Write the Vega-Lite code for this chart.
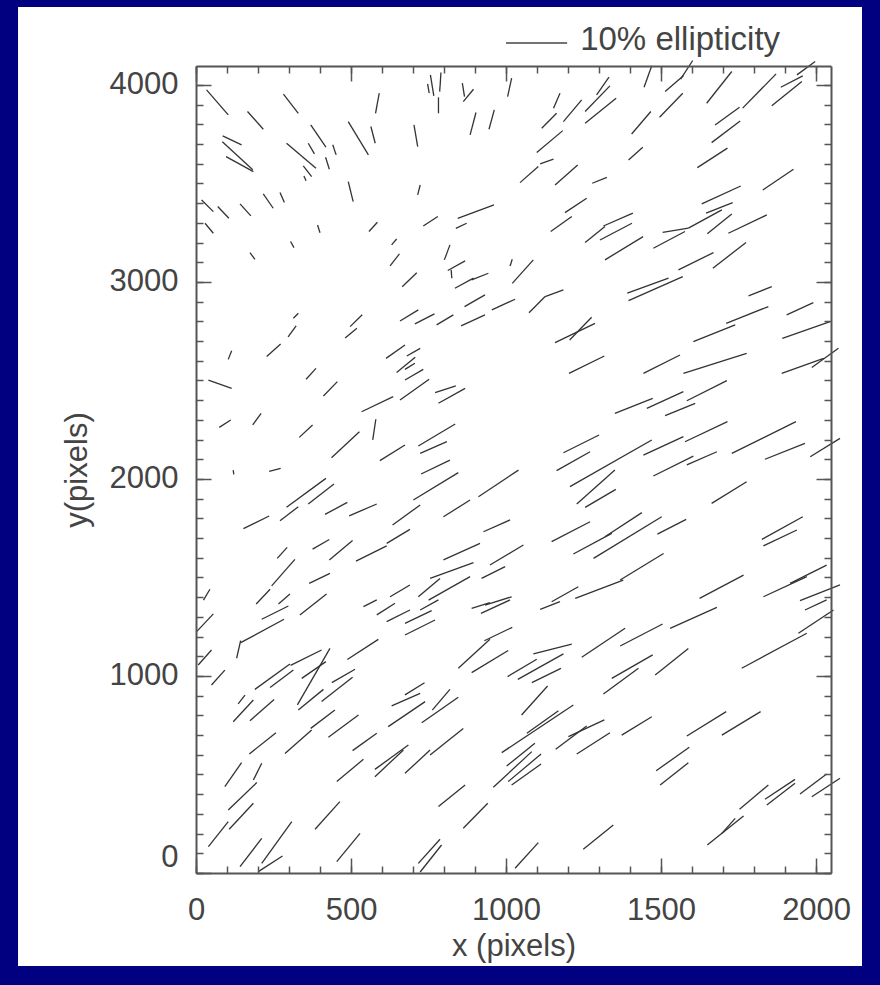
{
"$schema": "https://vega.github.io/schema/vega-lite/v6.json",
"width": 635,
"height": 807,
"autosize": {"type": "none"},
"padding": {"left": 196, "top": 66, "right": 49, "bottom": 112},
"background": "#000080",
"config": {
  "view": {"stroke": null},
  "axis": {"grid": false, "domainColor": "#555555", "domainWidth": 2, "tickColor": "#555555", "tickWidth": 1.5,
    "labelFont": "Liberation Sans", "labelFontSize": 31, "labelColor": "#444444", "labelFontWeight": "normal",
    "titleFont": "Liberation Sans", "titleFontSize": 31, "titleColor": "#444444", "titleFontWeight": "normal", "labelOverlap": false}
},
"resolve": {"axis": {"x": "independent", "y": "independent"}},
"data": {"values": [
{"x0":34,"y0":3975,"x1":104,"y1":3848},{"x0":166,"y0":3865,"x1":217,"y1":3775},{"x0":282,"y0":3953,"x1":330,"y1":3856},{"x0":591,"y0":3958,"x1":579,"y1":3856},
{"x0":86,"y0":3741,"x1":147,"y1":3696},{"x0":85,"y0":3712,"x1":183,"y1":3569},{"x0":97,"y0":3636,"x1":185,"y1":3560},{"x0":292,"y0":3704,"x1":387,"y1":3577},
{"x0":370,"y0":3797,"x1":419,"y1":3684},{"x0":362,"y0":3704,"x1":382,"y1":3650},{"x0":441,"y0":3696,"x1":452,"y1":3645},{"x0":418,"y0":3633,"x1":430,"y1":3572},
{"x0":346,"y0":3589,"x1":373,"y1":3535},{"x0":348,"y0":3538,"x1":355,"y1":3514},{"x0":491,"y0":3814,"x1":556,"y1":3645},{"x0":564,"y0":3789,"x1":578,"y1":3704},
{"x0":491,"y0":3509,"x1":507,"y1":3408},{"x0":18,"y0":3416,"x1":56,"y1":3357},{"x0":70,"y0":3383,"x1":106,"y1":3323},{"x0":142,"y0":3396,"x1":177,"y1":3335},
{"x0":217,"y0":3447,"x1":249,"y1":3374},{"x0":271,"y0":3454,"x1":285,"y1":3403},{"x0":29,"y0":3298,"x1":56,"y1":3247},{"x0":392,"y0":3289,"x1":400,"y1":3250},
{"x0":558,"y0":3256,"x1":585,"y1":3303},{"x0":305,"y0":3205,"x1":316,"y1":3174},{"x0":174,"y0":3149,"x1":190,"y1":3115},{"x0":631,"y0":3188,"x1":647,"y1":3218},
{"x0":626,"y0":3081,"x1":656,"y1":3142},{"x0":665,"y0":2976,"x1":712,"y1":3047},{"x0":314,"y0":2816,"x1":330,"y1":2841},{"x0":297,"y0":2721,"x1":323,"y1":2777},
{"x0":497,"y0":2773,"x1":536,"y1":2833},{"x0":481,"y0":2716,"x1":519,"y1":2765},{"x0":658,"y0":2802,"x1":717,"y1":2858},
{"x0":756,"y0":4051,"x1":767,"y1":3944},{"x0":747,"y0":4005,"x1":752,"y1":3958},{"x0":790,"y0":4063,"x1":786,"y1":3966},{"x0":782,"y0":3937,"x1":782,"y1":3856},
{"x0":859,"y0":4009,"x1":866,"y1":3941},{"x0":862,"y0":3915,"x1":895,"y1":3978},{"x0":903,"y0":3860,"x1":884,"y1":3746},{"x0":962,"y0":3873,"x1":945,"y1":3775},
{"x0":1018,"y0":4034,"x1":1005,"y1":3941},{"x0":703,"y0":3797,"x1":715,"y1":3687},{"x0":1174,"y0":3958,"x1":1153,"y1":3882},{"x0":1163,"y0":3856,"x1":1115,"y1":3780},
{"x0":1244,"y0":3924,"x1":1185,"y1":3814},{"x0":1332,"y0":4039,"x1":1292,"y1":3949},{"x0":1335,"y0":3995,"x1":1255,"y1":3865},{"x0":1355,"y0":3932,"x1":1255,"y1":3806},
{"x0":1183,"y0":3768,"x1":1099,"y1":3657},{"x0":1153,"y0":3623,"x1":1110,"y1":3599},{"x0":1104,"y0":3586,"x1":1045,"y1":3504},{"x0":1231,"y0":3594,"x1":1158,"y1":3492},
{"x0":1325,"y0":3531,"x1":1278,"y1":3501},{"x0":723,"y0":3492,"x1":715,"y1":3442},{"x0":1260,"y0":3425,"x1":1190,"y1":3352},{"x0":961,"y0":3391,"x1":844,"y1":3323},
{"x0":780,"y0":3332,"x1":733,"y1":3284},{"x0":873,"y0":3298,"x1":838,"y1":3272},{"x0":1212,"y0":3332,"x1":1144,"y1":3256},{"x0":1314,"y0":3284,"x1":1409,"y1":3349},
{"x0":1319,"y0":3281,"x1":1255,"y1":3200},{"x0":1303,"y0":3213,"x1":1406,"y1":3298},{"x0":1319,"y0":3112,"x1":1442,"y1":3230},{"x0":819,"y0":3188,"x1":801,"y1":3112},
{"x0":868,"y0":3107,"x1":812,"y1":3058},{"x0":823,"y0":3061,"x1":825,"y1":3019},{"x0":1020,"y0":3115,"x1":1013,"y1":3081},{"x0":1088,"y0":3112,"x1":1020,"y1":2993},
{"x0":943,"y0":3044,"x1":889,"y1":3010},{"x0":895,"y0":3019,"x1":835,"y1":2968},{"x0":932,"y0":2934,"x1":866,"y1":2875},{"x0":1029,"y0":2912,"x1":954,"y1":2858},
{"x0":1185,"y0":2960,"x1":1126,"y1":2926},{"x0":1126,"y0":2926,"x1":1074,"y1":2844},{"x0":769,"y0":2838,"x1":706,"y1":2787},{"x0":830,"y0":2833,"x1":776,"y1":2782},
{"x0":932,"y0":2833,"x1":855,"y1":2777},{"x0":1276,"y0":2821,"x1":1205,"y1":2705},{"x0":1287,"y0":2790,"x1":1158,"y1":2692},
{"x0":1470,"y0":4097,"x1":1445,"y1":3988},{"x0":1602,"y0":4124,"x1":1563,"y1":4029},{"x0":1572,"y0":4046,"x1":1513,"y1":3966},{"x0":1570,"y0":3958,"x1":1495,"y1":3836},
{"x0":1467,"y0":3865,"x1":1405,"y1":3751},{"x0":1441,"y0":3684,"x1":1395,"y1":3619},{"x0":1728,"y0":4068,"x1":1647,"y1":3907},{"x0":1871,"y0":4056,"x1":1763,"y1":3882},
{"x0":1957,"y0":4046,"x1":1886,"y1":3988},{"x0":1954,"y0":4017,"x1":1857,"y1":3894},{"x0":1997,"y0":4119,"x1":1938,"y1":4051},{"x0":1753,"y0":3887,"x1":1674,"y1":3797},
{"x0":1755,"y0":3817,"x1":1663,"y1":3707},{"x0":1714,"y0":3679,"x1":1617,"y1":3580},{"x0":1927,"y0":3572,"x1":1828,"y1":3467},{"x0":1757,"y0":3487,"x1":1631,"y1":3396},
{"x0":1731,"y0":3403,"x1":1645,"y1":3349},{"x0":1696,"y0":3366,"x1":1588,"y1":3273},{"x0":1588,"y0":3273,"x1":1505,"y1":3251},{"x0":1841,"y0":3340,"x1":1717,"y1":3247},
{"x0":1728,"y0":3345,"x1":1649,"y1":3244},{"x0":1577,"y0":3256,"x1":1475,"y1":3171},{"x0":1669,"y0":3149,"x1":1556,"y1":3061},{"x0":1774,"y0":3200,"x1":1667,"y1":3070},
{"x0":1524,"y0":3019,"x1":1391,"y1":2943},{"x0":1570,"y0":3027,"x1":1395,"y1":2905},{"x0":1857,"y0":2976,"x1":1782,"y1":2929},{"x0":1846,"y0":2875,"x1":1710,"y1":2790},
{"x0":1991,"y0":2895,"x1":1905,"y1":2833},{"x0":1739,"y0":2782,"x1":1604,"y1":2697},{"x0":2045,"y0":2798,"x1":1891,"y1":2714},
{"x0":115,"y0":2651,"x1":104,"y1":2607},{"x0":273,"y0":2685,"x1":228,"y1":2621},{"x0":387,"y0":2561,"x1":355,"y1":2506},{"x0":456,"y0":2494,"x1":411,"y1":2421},
{"x0":40,"y0":2502,"x1":115,"y1":2460},{"x0":210,"y0":2333,"x1":183,"y1":2274},{"x0":112,"y0":2299,"x1":75,"y1":2262},{"x0":376,"y0":2274,"x1":333,"y1":2211},
{"x0":674,"y0":2680,"x1":613,"y1":2612},{"x0":636,"y0":2418,"x1":534,"y1":2341},{"x0":580,"y0":2303,"x1":570,"y1":2198},{"x0":527,"y0":2240,"x1":437,"y1":2108},
{"x0":674,"y0":2172,"x1":593,"y1":2093},{"x0":120,"y0":2045,"x1":122,"y1":2023},{"x0":273,"y0":2054,"x1":236,"y1":2039},{"x0":419,"y0":2003,"x1":292,"y1":1856},
{"x0":445,"y0":1974,"x1":362,"y1":1873},{"x0":236,"y0":1812,"x1":153,"y1":1748},{"x0":330,"y0":1859,"x1":271,"y1":1788},{"x0":488,"y0":1881,"x1":416,"y1":1820},
{"x0":583,"y0":1873,"x1":494,"y1":1813},{"x0":690,"y0":1744,"x1":615,"y1":1673},{"x0":430,"y0":1693,"x1":376,"y1":1644},{"x0":505,"y0":1687,"x1":430,"y1":1589},
{"x0":294,"y0":1653,"x1":262,"y1":1597},{"x0":615,"y0":1660,"x1":516,"y1":1583},{"x0":319,"y0":1592,"x1":244,"y1":1457},{"x0":432,"y0":1521,"x1":365,"y1":1470},
{"x0":45,"y0":1440,"x1":24,"y1":1385},{"x0":239,"y0":1440,"x1":194,"y1":1365},{"x0":303,"y0":1416,"x1":266,"y1":1365},{"x0":690,"y0":1462,"x1":626,"y1":1402},
{"x0":723,"y0":2663,"x1":680,"y1":2624},{"x0":707,"y0":2618,"x1":647,"y1":2540},{"x0":706,"y0":2587,"x1":674,"y1":2556},{"x0":733,"y0":2556,"x1":674,"y1":2502},
{"x0":752,"y0":2506,"x1":658,"y1":2401},{"x0":771,"y0":2438,"x1":838,"y1":2472},{"x0":782,"y0":2384,"x1":868,"y1":2460},{"x0":836,"y0":2279,"x1":717,"y1":2167},
{"x0":809,"y0":2189,"x1":723,"y1":2130},{"x0":819,"y0":2096,"x1":726,"y1":2025},{"x0":846,"y0":2032,"x1":701,"y1":1893},{"x0":1040,"y0":2045,"x1":911,"y1":1910},
{"x0":884,"y0":1893,"x1":798,"y1":1808},{"x0":723,"y0":1868,"x1":634,"y1":1766},{"x0":1013,"y0":1792,"x1":927,"y1":1732},{"x0":916,"y0":1673,"x1":798,"y1":1589},
{"x0":1056,"y0":1665,"x1":948,"y1":1563},{"x0":895,"y0":1575,"x1":755,"y1":1495},{"x0":787,"y0":1495,"x1":717,"y1":1402},{"x0":884,"y0":1504,"x1":750,"y1":1385},
{"x0":997,"y0":1555,"x1":921,"y1":1495},{"x0":1018,"y0":1402,"x1":932,"y1":1360},{"x0":1317,"y0":2624,"x1":1203,"y1":2536},{"x0":1300,"y0":2223,"x1":1185,"y1":2133},
{"x0":1271,"y0":2138,"x1":1163,"y1":2042},{"x0":1351,"y0":2045,"x1":1228,"y1":1873},{"x0":1354,"y0":1947,"x1":1255,"y1":1856},{"x0":1271,"y0":1783,"x1":1147,"y1":1682},
{"x0":1341,"y0":1724,"x1":1217,"y1":1619},{"x0":1233,"y0":1453,"x1":1147,"y1":1377},{"x0":1378,"y0":1487,"x1":1223,"y1":1394},
{"x0":1561,"y0":2629,"x1":1443,"y1":2536},{"x0":1776,"y0":2638,"x1":1572,"y1":2536},{"x0":2072,"y0":2663,"x1":1986,"y1":2566},{"x0":2024,"y0":2612,"x1":1889,"y1":2536},
{"x0":1473,"y0":2409,"x1":1351,"y1":2333},{"x0":1572,"y0":2443,"x1":1454,"y1":2358},{"x0":1712,"y0":2499,"x1":1583,"y1":2397},{"x0":1610,"y0":2384,"x1":1513,"y1":2321},
{"x0":1714,"y0":2291,"x1":1577,"y1":2189},{"x0":1935,"y0":2291,"x1":1728,"y1":2130},{"x0":1470,"y0":2198,"x1":1206,"y1":1961},{"x0":1572,"y0":2215,"x1":1443,"y1":2121},
{"x0":1680,"y0":2138,"x1":1583,"y1":2071},{"x0":1964,"y0":2181,"x1":1835,"y1":2100},{"x0":1604,"y0":2116,"x1":1475,"y1":2015},{"x0":2077,"y0":2206,"x1":1981,"y1":2113},
{"x0":1776,"y0":1986,"x1":1663,"y1":1876},{"x0":1438,"y0":1829,"x1":1319,"y1":1707},{"x0":1502,"y0":1808,"x1":1282,"y1":1597},{"x0":1581,"y0":1795,"x1":1488,"y1":1720},
{"x0":1957,"y0":1808,"x1":1825,"y1":1693},{"x0":1938,"y0":1741,"x1":1830,"y1":1660},{"x0":1508,"y0":1622,"x1":1368,"y1":1487},{"x0":1766,"y0":1512,"x1":1624,"y1":1394},
{"x0":2034,"y0":1563,"x1":1916,"y1":1470},{"x0":1970,"y0":1504,"x1":1830,"y1":1402},{"x0":2077,"y0":1462,"x1":1948,"y1":1382},
{"x0":56,"y0":1315,"x1":2,"y1":1225},{"x0":298,"y0":1355,"x1":212,"y1":1288},{"x0":421,"y0":1416,"x1":335,"y1":1310},{"x0":583,"y0":1386,"x1":540,"y1":1352},
{"x0":642,"y0":1369,"x1":583,"y1":1310},{"x0":690,"y0":1335,"x1":615,"y1":1276},{"x0":284,"y0":1288,"x1":144,"y1":1169},{"x0":144,"y0":1179,"x1":131,"y1":1090},
{"x0":50,"y0":1132,"x1":7,"y1":1056},{"x0":405,"y0":1132,"x1":305,"y1":1054},{"x0":432,"y0":1140,"x1":327,"y1":853},{"x0":419,"y0":1073,"x1":341,"y1":988},
{"x0":303,"y0":1061,"x1":190,"y1":932},{"x0":314,"y0":1030,"x1":239,"y1":942},{"x0":588,"y0":1186,"x1":488,"y1":1084},{"x0":93,"y0":1030,"x1":50,"y1":954},
{"x0":513,"y0":1034,"x1":438,"y1":966},{"x0":505,"y0":993,"x1":405,"y1":870},{"x0":411,"y0":932,"x1":330,"y1":827},{"x0":158,"y0":903,"x1":136,"y1":858},
{"x0":252,"y0":881,"x1":174,"y1":773},{"x0":185,"y0":878,"x1":120,"y1":768},{"x0":448,"y0":827,"x1":370,"y1":734},{"x0":524,"y0":802,"x1":427,"y1":689},
{"x0":373,"y0":726,"x1":287,"y1":607},{"x0":258,"y0":712,"x1":172,"y1":604},{"x0":583,"y0":709,"x1":505,"y1":621},{"x0":147,"y0":560,"x1":93,"y1":438},
{"x0":212,"y0":557,"x1":185,"y1":472},{"x0":196,"y0":459,"x1":104,"y1":320},{"x0":540,"y0":577,"x1":454,"y1":464},{"x0":685,"y0":650,"x1":577,"y1":526},
{"x0":669,"y0":624,"x1":577,"y1":489},{"x0":185,"y0":354,"x1":107,"y1":222},{"x0":104,"y0":261,"x1":40,"y1":134},{"x0":309,"y0":261,"x1":212,"y1":49},
{"x0":464,"y0":362,"x1":384,"y1":222},{"x0":212,"y0":176,"x1":142,"y1":32},{"x0":279,"y0":86,"x1":201,"y1":7},{"x0":529,"y0":201,"x1":454,"y1":58},
{"x0":782,"y0":1386,"x1":723,"y1":1335},{"x0":760,"y0":1332,"x1":674,"y1":1267},{"x0":771,"y0":1284,"x1":674,"y1":1208},{"x0":948,"y0":1372,"x1":889,"y1":1343},
{"x0":1013,"y0":1386,"x1":919,"y1":1318},{"x0":1174,"y0":1377,"x1":1110,"y1":1338},{"x0":1020,"y0":1247,"x1":930,"y1":1179},{"x0":948,"y0":1186,"x1":846,"y1":1039},
{"x0":1007,"y0":1129,"x1":889,"y1":1017},{"x0":1212,"y0":1162,"x1":1088,"y1":1112},{"x0":1099,"y0":1085,"x1":1005,"y1":997},{"x0":1185,"y0":1112,"x1":1038,"y1":983},
{"x0":1177,"y0":1039,"x1":1083,"y1":966},{"x0":1134,"y0":949,"x1":1050,"y1":802},{"x0":1384,"y0":1242,"x1":1244,"y1":1095},{"x0":737,"y0":966,"x1":674,"y1":904},
{"x0":723,"y0":912,"x1":631,"y1":848},{"x0":739,"y0":870,"x1":620,"y1":743},{"x0":819,"y0":932,"x1":762,"y1":827},{"x0":846,"y0":892,"x1":728,"y1":763},
{"x0":1217,"y0":853,"x1":986,"y1":611},{"x0":1169,"y0":824,"x1":1067,"y1":709},{"x0":862,"y0":734,"x1":755,"y1":599},{"x0":755,"y0":624,"x1":674,"y1":506},
{"x0":1260,"y0":746,"x1":1160,"y1":628},{"x0":1317,"y0":777,"x1":1201,"y1":692},{"x0":1335,"y0":712,"x1":1228,"y1":604},{"x0":1093,"y0":658,"x1":1002,"y1":543},
{"x0":1083,"y0":616,"x1":959,"y1":435},{"x0":1113,"y0":604,"x1":1007,"y1":464},{"x0":1113,"y0":553,"x1":1018,"y1":447},{"x0":868,"y0":447,"x1":782,"y1":337},
{"x0":941,"y0":354,"x1":862,"y1":227},{"x0":787,"y0":171,"x1":717,"y1":49},{"x0":792,"y0":142,"x1":723,"y1":5},{"x0":1104,"y0":154,"x1":1029,"y1":24},
{"x0":1346,"y0":244,"x1":1249,"y1":120},
{"x0":1505,"y0":1264,"x1":1368,"y1":1152},{"x0":1680,"y0":1348,"x1":1529,"y1":1242},{"x0":1473,"y0":1107,"x1":1341,"y1":988},{"x0":1427,"y0":1039,"x1":1314,"y1":909},
{"x0":1588,"y0":1140,"x1":1481,"y1":1005},{"x0":1970,"y0":1217,"x1":1760,"y1":1039},{"x0":2056,"y0":1335,"x1":1943,"y1":1217},{"x0":2034,"y0":1386,"x1":1964,"y1":1335},
{"x0":1470,"y0":793,"x1":1373,"y1":700},{"x0":1710,"y0":819,"x1":1583,"y1":695},{"x0":1821,"y0":819,"x1":1696,"y1":700},{"x0":1591,"y0":638,"x1":1484,"y1":519},
{"x0":1588,"y0":560,"x1":1497,"y1":447},{"x0":1846,"y0":447,"x1":1753,"y1":323},{"x0":1932,"y0":475,"x1":1835,"y1":374},{"x0":1932,"y0":455,"x1":1841,"y1":345},
{"x0":2034,"y0":503,"x1":1948,"y1":401},{"x0":2077,"y0":481,"x1":1986,"y1":387},{"x0":1766,"y0":289,"x1":1649,"y1":142},{"x0":1739,"y0":277,"x1":1696,"y1":201}
]},
"layer": [
  {
    "data": {"values": [{}]},
    "mark": {"type": "rect", "color": "white"},
    "encoding": {
      "x": {"datum": -574, "type": "quantitative", "axis": null},
      "x2": {"datum": 2148},
      "y": {"datum": -472, "type": "quantitative", "axis": null},
      "y2": {"datum": 4396}
    }
  },
  {
    "mark": {"type": "rule", "color": "#333333", "strokeWidth": 1.3},
    "encoding": {
      "x": {"field": "x0", "type": "quantitative", "scale": {"domain": [0, 2048], "nice": false, "zero": false},
        "axis": {"orient": "bottom", "zindex": 1, "values": [0,500,1000,1500,2000], "format": "d", "tickSize": -15, "labelPadding": 37, "labelFlush": false, "title": "x (pixels)", "titlePadding": 6}},
      "y": {"field": "y0", "type": "quantitative", "scale": {"domain": [0, 4096], "nice": false, "zero": false},
        "axis": {"orient": "left", "zindex": 1, "values": [0,1000,2000,3000,4000], "format": "d", "tickSize": -15, "labelPadding": 33, "labelFlush": true, "title": "y(pixels)", "titlePadding": 16}},
      "x2": {"field": "x1"},
      "y2": {"field": "y1"}
    }
  },
  {
    "data": {"values": [{"v": 0}]},
    "mark": {"type": "point", "opacity": 0},
    "encoding": {
      "x": {"field": "v", "type": "quantitative", "axis": {"orient": "bottom", "zindex": 1, "values": [0,100,200,300,400,500,600,700,800,900,1000,1100,1200,1300,1400,1500,1600,1700,1800,1900,2000], "tickSize": -7, "labels": false, "domain": false, "title": null}},
      "y": {"field": "v", "type": "quantitative", "axis": {"orient": "left", "zindex": 1, "values": [0,100,200,300,400,500,600,700,800,900,1000,1100,1200,1300,1400,1500,1600,1700,1800,1900,2000,2100,2200,2300,2400,2500,2600,2700,2800,2900,3000,3100,3200,3300,3400,3500,3600,3700,3800,3900,4000], "tickSize": -7, "labels": false, "domain": false, "title": null}}
    }
  },
  {
    "data": {"values": [{"v": 0}]},
    "mark": {"type": "point", "opacity": 0},
    "encoding": {
      "x": {"field": "v", "type": "quantitative", "axis": {"orient": "top", "zindex": 1, "values": [0,500,1000,1500,2000], "tickSize": -15, "labels": false, "domain": true, "title": null}},
      "y": {"field": "v", "type": "quantitative", "axis": {"orient": "right", "zindex": 1, "values": [0,1000,2000,3000,4000], "tickSize": -15, "labels": false, "domain": true, "title": null}}
    }
  },
  {
    "data": {"values": [{"v": 0}]},
    "mark": {"type": "point", "opacity": 0},
    "encoding": {
      "x": {"field": "v", "type": "quantitative", "axis": {"orient": "top", "zindex": 1, "values": [0,100,200,300,400,500,600,700,800,900,1000,1100,1200,1300,1400,1500,1600,1700,1800,1900,2000], "tickSize": -7, "labels": false, "domain": false, "title": null}},
      "y": {"field": "v", "type": "quantitative", "axis": {"orient": "right", "zindex": 1, "values": [0,100,200,300,400,500,600,700,800,900,1000,1100,1200,1300,1400,1500,1600,1700,1800,1900,2000,2100,2200,2300,2400,2500,2600,2700,2800,2900,3000,3100,3200,3300,3400,3500,3600,3700,3800,3900,4000], "tickSize": -7, "labels": false, "domain": false, "title": null}}
    }
  },
  {
    "data": {"values": [{}]},
    "mark": {"type": "rule", "color": "#444444", "strokeWidth": 1.5},
    "encoding": {
      "x": {"datum": 1000, "type": "quantitative", "axis": null},
      "x2": {"datum": 1197},
      "y": {"datum": 4213, "type": "quantitative", "axis": null}
    }
  },
  {
    "data": {"values": [{}]},
    "mark": {"type": "text", "align": "left", "baseline": "alphabetic", "font": "Liberation Sans", "fontSize": 33, "color": "#444444"},
    "encoding": {
      "x": {"datum": 1239, "type": "quantitative", "axis": null},
      "y": {"datum": 4178, "type": "quantitative", "axis": null},
      "text": {"value": "10% ellipticity"}
    }
  }
]
}
